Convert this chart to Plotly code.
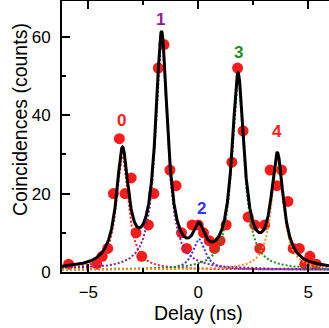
import numpy as np
import plotly.graph_objects as go

# measured coincidence counts
delay_ns = [-5.90, -4.62, -4.37, -4.12, -3.86, -3.59, -3.33, -3.05, -2.83, -2.57,
            -2.27, -2.02, -1.82, -1.56, -1.29, -1.01, -0.76, -0.53, -0.28, 0.00,
            0.24, 0.50, 0.74, 0.99, 1.27, 1.53, 1.79, 2.04, 2.27, 2.57,
            2.80, 3.02, 3.27, 3.58, 3.79, 4.08, 4.32, 4.60, 4.85, 5.08, 5.37]
counts = [2, 2, 4, 6, 20, 34, 20, 24, 10, 4,
          12, 20, 52, 58, 26, 22, 10, 6, 12, 12,
          10, 8, 6, 8, 12, 28, 52, 36, 14, 12,
          6, 12, 26, 22, 26, 18, 6, 6, 2, 4, 2]

# fitted peak parameters (Lorentzian components)
peak_labels = ["0", "1", "2", "3", "4"]
peak_centers = [-3.45, -1.67, 0.03, 1.81, 3.60]
peak_amps = [29.0, 59.0, 7.8, 48.4, 27.9]
peak_gammas = [0.33, 0.33, 0.33, 0.33, 0.33]
baseline = 0.6
comp_colors = ["#ff2020", "#8a1c9e", "#3434f0", "#1f8f1f", "#ff8c1a"]
label_colors = ["#ff2020", "#8a1c9e", "#3434f0", "#1f8f1f", "#ff2020"]
label_x = [-3.51, -1.70, 0.13, 1.82, 3.59]
label_y = [38.6, 64.5, 16.3, 56.0, 35.7]

x_range = [-6.2, 5.95]
y_range = [0, 69.1]

xf = np.linspace(x_range[0], x_range[1], 1500)
def lor(x, c, a, g):
    return a * g**2 / ((x - c)**2 + g**2)

fig = go.Figure()

fig.add_trace(go.Scatter(x=delay_ns, y=counts, mode="markers",
                         marker=dict(color="#ff1a1a", size=11, line=dict(width=0)),
                         cliponaxis=False))

total = np.full_like(xf, baseline)
for c, a, g, col in zip(peak_centers, peak_amps, peak_gammas, comp_colors):
    comp = lor(xf, c, a, g)
    total += comp
    fig.add_trace(go.Scatter(x=xf, y=baseline + comp, mode="lines",
                             line=dict(color=col, width=2, dash="2px,2px")))

fig.add_trace(go.Scatter(x=xf, y=total, mode="lines",
                         line=dict(color="black", width=3)))

# invisible trace to attach the top axis
fig.add_trace(go.Scatter(x=[0], y=[0], xaxis="x2", mode="markers",
                         marker=dict(opacity=0), hoverinfo="skip"))

font_fam = "Liberation Sans, Arial, sans-serif"

for lab, lx, ly, col in zip(peak_labels, label_x, label_y, label_colors):
    fig.add_annotation(x=lx, y=ly, text="<b>%s</b>" % lab, showarrow=False,
                       font=dict(size=17, color=col, family=font_fam),
                       xanchor="center", yanchor="middle")

# axis titles as annotations (paper coords)
fig.add_annotation(x=0.513, y=-0.151, xref="paper", yref="paper",
                   text="Delay (ns)", showarrow=False,
                   font=dict(size=19.5, color="black", family=font_fam),
                   xanchor="center", yanchor="middle")
fig.add_annotation(x=-0.157, y=0.561, xref="paper", yref="paper",
                   text="Coincidences (counts)", showarrow=False, textangle=-90,
                   font=dict(size=19.5, color="black", family=font_fam),
                   xanchor="center", yanchor="middle")

fig.update_layout(
    width=329, height=328,
    margin=dict(l=62, r=0, t=1, b=56, autoexpand=False),
    plot_bgcolor="white", paper_bgcolor="white",
    showlegend=False,
    font=dict(family=font_fam, color="black"),
    xaxis=dict(range=x_range, tickmode="linear", tick0=0, dtick=5,
               ticks="inside", ticklen=8, tickwidth=1.5, tickcolor="black",
               minor=dict(ticks="inside", ticklen=4, tickwidth=1.5, dtick=2.5, tick0=0, tickcolor="black"),
               showline=True, linewidth=2, linecolor="black", mirror=False,
               showgrid=False, zeroline=False, automargin=False,
               tickfont=dict(size=17), ticklabelstandoff=4),
    xaxis2=dict(overlaying="x", matches="x", side="top", range=x_range,
                tickmode="linear", tick0=0, dtick=5,
                ticks="inside", ticklen=8, tickwidth=1.5, tickcolor="black",
                minor=dict(ticks="inside", ticklen=4, tickwidth=1.5, dtick=2.5, tick0=0, tickcolor="black"),
                showline=True, linewidth=2, linecolor="black", automargin=False,
                showgrid=False, zeroline=False, showticklabels=False),
    yaxis=dict(range=y_range, tickmode="linear", tick0=0, dtick=20,
               ticks="inside", ticklen=8, tickwidth=1.5, tickcolor="black",
               minor=dict(ticks="inside", ticklen=4, tickwidth=1.5, dtick=10, tick0=0, tickcolor="black"),
               showline=True, linewidth=2, linecolor="black", mirror=False,
               showgrid=False, zeroline=False, automargin=False,
               tickfont=dict(size=17), ticklabelstandoff=6),
)

fig.write_html("out.html", config={"displayModeBar": False},
               post_script="document.body.style.margin='0';document.body.style.padding='0';")
